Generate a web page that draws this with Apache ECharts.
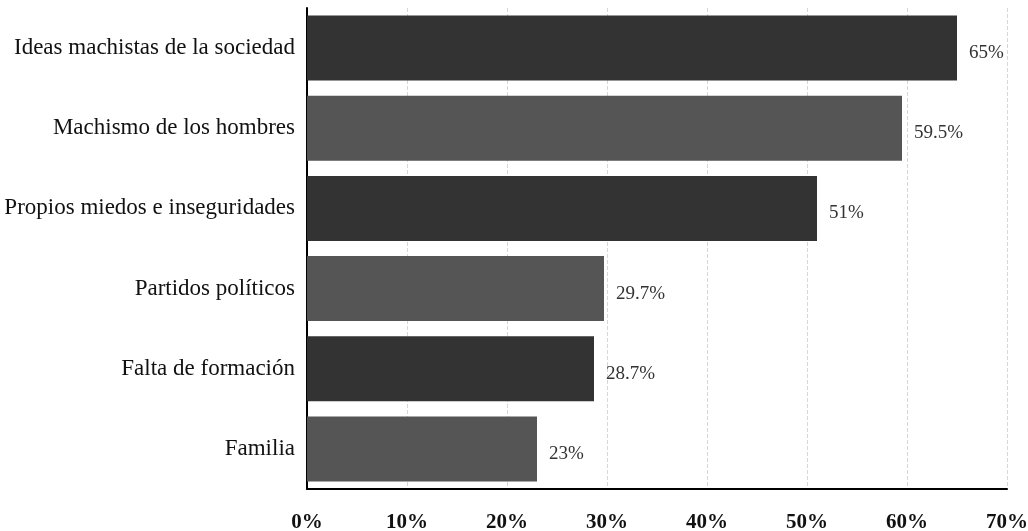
<!DOCTYPE html>
<html>
<head>
<meta charset="utf-8">
<script src="https://cdn.jsdelivr.net/npm/echarts@6/dist/echarts.min.js"></script>
<style>
    html, body { margin: 0; padding: 0; background: #ffffff; }
    #char1 { width: 1028px; height: 531px; }
</style>
</head>
<body>
<div id="char1"></div>
<script>
// categories from top to bottom
var categories = [
    "Ideas machistas de la sociedad",
    "Machismo de los hombres",
    "Propios miedos e inseguridades",
    "Partidos políticos",
    "Falta de formación",
    "Familia"
];
var values = [65, 59.5, 51, 29.7, 28.7, 23];
var barColors = ["#333333", "#555555", "#333333", "#555555", "#333333", "#555555"];

function char1() {
    var myChart = echarts.init(document.getElementById("char1"));

    // category axis goes bottom-up, so reverse
    var cats = categories.slice().reverse();
    var data = [];
    for (var i = values.length - 1; i >= 0; i--) {
        data.push({ value: values[i], itemStyle: { color: barColors[i] } });
    }

    var option = {
        animation: false,
        grid: {
            left: 307,
            right: 21,
            top: 8,
            bottom: 42,
            outerBoundsMode: "none",
            containLabel: false,
        },
        xAxis: {
            type: "value",
            min: 0,
            max: 70,
            interval: 10,
            axisLine: {
                show: true,
                lineStyle: { color: "#000000", width: 2 },
            },
            axisTick: { show: false },
            axisLabel: {
                margin: 23,
                formatter: "{value}%",
                fontFamily: "Liberation Serif",
                fontWeight: "bold",
                fontSize: 21,
                color: "#111111",
            },
            splitLine: {
                show: true,
                lineStyle: { color: "#d6d6d6", type: "dashed", width: 1 },
            },
        },
        yAxis: {
            type: "category",
            data: cats,
            axisLine: {
                show: true,
                lineStyle: { color: "#000000", width: 2 },
            },
            axisTick: { show: false },
            axisLabel: {
                margin: 12,
                fontFamily: "Liberation Serif",
                fontSize: 23,
                color: "#111111",
            },
        },
        series: [
            {
                type: "bar",
                barWidth: 65,
                data: data,
                label: {
                    show: true,
                    position: "right",
                    distance: 12,
                    offset: [0, 5],
                    formatter: "{c}%",
                    fontFamily: "Liberation Serif",
                    fontSize: 19,
                    color: "#333333",
                },
            },
        ],
    };

    myChart.setOption(option);
    window.addEventListener("resize", function () {
        myChart.resize();
    });
}

char1();
</script>
</body>
</html>
